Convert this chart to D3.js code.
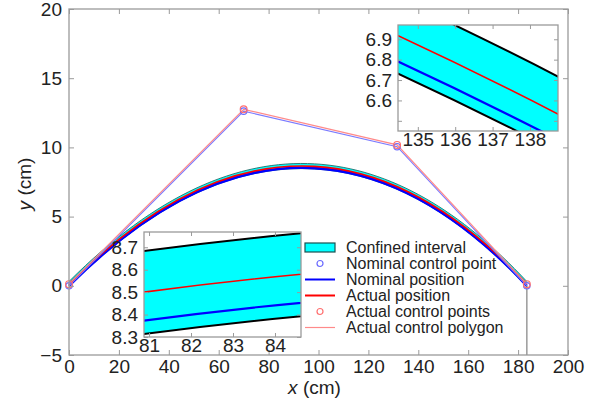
<!DOCTYPE html>
<html>
<head>
<meta charset="utf-8">
<script src="https://cdn.jsdelivr.net/npm/d3@7"></script>
<style>
  body { margin: 0; background: #fff; }
  svg { display: block; }
  text { font-family: Arial, "Liberation Sans", Helvetica, sans-serif; fill: #222; }
</style>
</head>
<body>
<svg id="chart" width="594" height="403"></svg>
<script>
// Cubic Bezier control points (cm)
const ctrlX = [0, 70, 131.5, 183.5];
const nominalY = [0, 12.62, 10.05, 0];
const actualY = [0.12, 12.75, 10.18, 0.12];
// Confined interval bounds, as control polygons of the lower and upper limit curves
const bandLowerY = [-0.06, 12.56, 9.99, -0.06];
const bandUpperY = [0.31, 12.93, 10.36, 0.31];

// Axis ticks
const xTicks = [0, 20, 40, 60, 80, 100, 120, 140, 160, 180, 200];
const yTicks = [-5, 0, 5, 10, 15, 20];
const inset1XTicks = [135, 136, 137, 138];
const inset1YTicks = [6.5, 6.6, 6.7, 6.8, 6.9];
const inset1YLabels = [6.6, 6.7, 6.8, 6.9];
const inset2XTicks = [81, 82, 83, 84];
const inset2YTicks = [8.3, 8.4, 8.5, 8.6, 8.7];

const legendLabels = [
  "Confined interval",
  "Nominal control point",
  "Nominal position",
  "Actual position",
  "Actual control points",
  "Actual control polygon"
];

const COLORS = {
  band: "#00ffff",
  edge: "#000000",
  edgeMain: "#1f6f6a",
  nominal: "#0000ff",
  actual: "#ff0000",
  nominalPt: "#6a6aff",
  actualPt: "#ff6f6f",
  nominalPoly: "#7b7bff",
  actualPoly: "#ff8a8a",
  frame: "#9a9a9a"
};

const svg = d3.select("#chart");
const plot = { left: 69, right: 568, top: 9, bottom: 355 };

const x = d3.scaleLinear().domain([0, 200]).range([plot.left, plot.right]);
const y = d3.scaleLinear().domain([-5, 20]).range([plot.bottom, plot.top]);

// Bezier segment through scaled control points (affine maps keep the curve exact)
function bezierPath(xs, ys, sx, sy, path) {
  const p = path || d3.path();
  if (!path) p.moveTo(sx(xs[0]), sy(ys[0]));
  p.bezierCurveTo(sx(xs[1]), sy(ys[1]), sx(xs[2]), sy(ys[2]), sx(xs[3]), sy(ys[3]));
  return p;
}
function curve(xs, ys, sx, sy) {
  return bezierPath(xs, ys, sx, sy).toString();
}
function bandArea(sx, sy) {
  const p = d3.path();
  p.moveTo(sx(ctrlX[0]), sy(bandLowerY[0]));
  bezierPath(ctrlX, bandLowerY, sx, sy, p);
  p.lineTo(sx(ctrlX[3]), sy(bandUpperY[3]));
  const rx = ctrlX.slice().reverse(), ry = bandUpperY.slice().reverse();
  bezierPath(rx, ry, sx, sy, p);
  p.closePath();
  return p.toString();
}

// Band with its limit curves, then nominal and actual positions
function drawCurves(g, sx, sy, w) {
  g.append("path").attr("d", bandArea(sx, sy)).attr("fill", COLORS.band).attr("stroke", "none");
  g.append("path").attr("d", curve(ctrlX, bandLowerY, sx, sy))
    .attr("fill", "none").attr("stroke", w.edgeColor).attr("stroke-width", w.edge);
  g.append("path").attr("d", curve(ctrlX, bandUpperY, sx, sy))
    .attr("fill", "none").attr("stroke", w.edgeColor).attr("stroke-width", w.edge);
  g.append("path").attr("d", curve(ctrlX, nominalY, sx, sy))
    .attr("fill", "none").attr("stroke", COLORS.nominal).attr("stroke-width", w.nominal);
  g.append("path").attr("d", curve(ctrlX, actualY, sx, sy))
    .attr("fill", "none").attr("stroke", COLORS.actual).attr("stroke-width", w.actual);
}

// ---------- Main plot ----------
const main = svg.append("g");

// Vertical guide at the end control point
main.append("line")
  .attr("x1", x(ctrlX[3])).attr("x2", x(ctrlX[3]))
  .attr("y1", y(0)).attr("y2", y(-5))
  .attr("stroke", COLORS.frame).attr("stroke-width", 1.5);

drawCurves(main, x, y, { edge: 0.9, edgeColor: COLORS.edgeMain, nominal: 2.6, actual: 1.6 });

// Control polygons
const poly = (ys) => d3.line().x((d, i) => x(ctrlX[i])).y(d => y(d))(ys);
main.append("path").attr("d", poly(nominalY))
  .attr("fill", "none").attr("stroke", COLORS.nominalPoly).attr("stroke-width", 1.2);
main.append("path").attr("d", poly(actualY))
  .attr("fill", "none").attr("stroke", COLORS.actualPoly).attr("stroke-width", 1.2);

// Control points
main.selectAll("circle.nom").data(nominalY).join("circle").attr("class", "nom")
  .attr("cx", (d, i) => x(ctrlX[i])).attr("cy", d => y(d)).attr("r", 3.2)
  .attr("fill", "none").attr("stroke", COLORS.nominalPt).attr("stroke-width", 1.2);
main.selectAll("circle.act").data(actualY).join("circle").attr("class", "act")
  .attr("cx", (d, i) => x(ctrlX[i])).attr("cy", d => y(d)).attr("r", 3.4)
  .attr("fill", "none").attr("stroke", COLORS.actualPt).attr("stroke-width", 1.2);

// Frame and axes (ticks pointing inward on all four sides)
function frameAxes(g, sx, sy, xt, yt, opts) {
  const [x0, x1] = sx.range(), [y0, y1] = sy.range();
  const tl = opts.tick;
  g.append("g").attr("transform", `translate(0,${y0})`)
    .call(d3.axisBottom(sx).tickValues(xt).tickSize(-tl).tickPadding(opts.xPad)
      .tickFormat(opts.xFmt || d3.format("d")));
  g.append("g").attr("transform", `translate(0,${y1})`)
    .call(d3.axisTop(sx).tickValues(xt).tickSize(-tl).tickFormat(""));
  g.append("g").attr("transform", `translate(${x0},0)`)
    .call(d3.axisLeft(sy).tickValues(yt).tickSize(-tl).tickPadding(opts.yPad)
      .tickFormat(opts.yFmt || (d => d3.format("d")(d).replace("-", "\u2212"))));
  g.append("g").attr("transform", `translate(${x1},0)`)
    .call(d3.axisRight(sy).tickValues(yt).tickSize(-tl).tickFormat(""));
  g.selectAll(".domain").attr("stroke", "none");
  g.selectAll(".tick line").attr("stroke", COLORS.frame).attr("stroke-width", 1);
  g.selectAll(".tick text").attr("font-size", opts.font).attr("fill", "#222")
    .attr("font-family", 'Arial, "Liberation Sans", Helvetica, sans-serif');
  g.append("rect").attr("x", x0).attr("y", y1).attr("width", x1 - x0).attr("height", y0 - y1)
    .attr("fill", "none").attr("stroke", COLORS.frame).attr("stroke-width", 1.3);
}

frameAxes(main, x, y, xTicks, yTicks, { tick: 5, xPad: 5, yPad: 7, font: 19 });

// Axis titles
const xt = svg.append("text").attr("x", (plot.left + plot.right) / 2 - 4).attr("y", 394)
  .attr("text-anchor", "middle").attr("font-size", 19);
xt.append("tspan").attr("font-style", "italic").text("x");
xt.append("tspan").text(" (cm)");

const yt = svg.append("text").attr("transform", "translate(31,184) rotate(-90)")
  .attr("text-anchor", "middle").attr("font-size", 19);
yt.append("tspan").attr("font-style", "italic").text("y");
yt.append("tspan").text(" (cm)");

// ---------- Inset plots ----------
function inset(id, box, xd, yd, xt, ytTicks, ytLabels) {
  const sx = d3.scaleLinear().domain(xd).range([box.x0, box.x1]);
  const sy = d3.scaleLinear().domain(yd).range([box.y1, box.y0]);
  const g = svg.append("g");
  g.append("rect").attr("x", box.x0).attr("y", box.y0)
    .attr("width", box.x1 - box.x0).attr("height", box.y1 - box.y0).attr("fill", "#fff");
  svg.append("clipPath").attr("id", id).append("rect")
    .attr("x", box.x0).attr("y", box.y0)
    .attr("width", box.x1 - box.x0).attr("height", box.y1 - box.y0);
  const c = g.append("g").attr("clip-path", `url(#${id})`);
  drawCurves(c, sx, sy, { edge: 2, edgeColor: COLORS.edge, nominal: 2.2, actual: 1.6 });
  frameAxes(g, sx, sy, xt, ytTicks, {
    tick: 4, xPad: 1, yPad: 6, font: 19,
    xFmt: d3.format("d"),
    yFmt: d => ytLabels.includes(d) ? d3.format(".1f")(d) : ""
  });
}

inset("clipA", { x0: 398, x1: 558, y0: 25, y1: 131 },
  [134.47, 138.75], [6.45, 6.97], inset1XTicks, inset1YTicks, inset1YLabels);
inset("clipB", { x0: 144, x1: 301, y0: 232, y1: 337 },
  [80.88, 84.62], [8.3, 8.768], inset2XTicks, inset2YTicks, inset2YTicks);

// ---------- Legend ----------
const lg = svg.append("g").attr("transform", "translate(305,247.5)");
const rowH = 16;
legendLabels.forEach((label, i) => {
  const r = lg.append("g").attr("transform", `translate(0,${i * rowH})`);
  if (i === 0) {
    r.append("rect").attr("x", 0).attr("y", -4.5).attr("width", 30).attr("height", 9)
      .attr("fill", COLORS.band).attr("stroke", "#1a5050").attr("stroke-width", 1.2);
  } else if (i === 1) {
    r.append("circle").attr("cx", 15).attr("cy", 0).attr("r", 3)
      .attr("fill", "none").attr("stroke", COLORS.nominalPt).attr("stroke-width", 1.2);
  } else if (i === 2) {
    r.append("line").attr("x1", 0).attr("x2", 30).attr("stroke", COLORS.nominal).attr("stroke-width", 2);
  } else if (i === 3) {
    r.append("line").attr("x1", 0).attr("x2", 30).attr("stroke", COLORS.actual).attr("stroke-width", 2);
  } else if (i === 4) {
    r.append("circle").attr("cx", 15).attr("cy", 0).attr("r", 3)
      .attr("fill", "none").attr("stroke", COLORS.actualPt).attr("stroke-width", 1.2);
  } else {
    r.append("line").attr("x1", 0).attr("x2", 30).attr("stroke", COLORS.actualPoly).attr("stroke-width", 1.2);
  }
  r.append("text").attr("x", 41).attr("y", 0).attr("dy", "0.35em")
    .attr("font-size", 16).text(label);
});
</script>
</body>
</html>
